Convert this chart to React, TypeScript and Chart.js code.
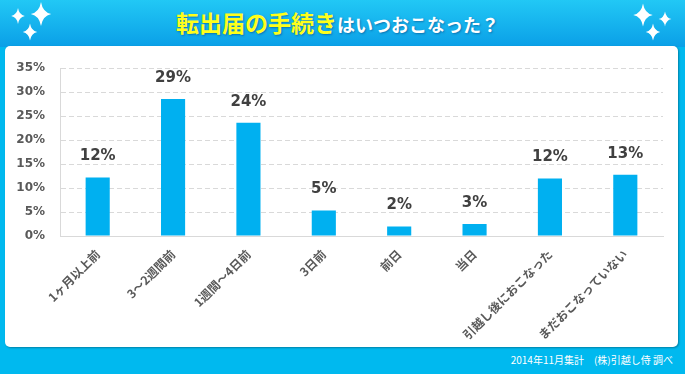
import React, { useEffect, useRef } from "react";
import { Chart, registerables } from "chart.js";

Chart.register(...registerables);

const categories = ["1ヶ月以上前", "3～2週間前", "1週間～4日前", "3日前", "前日", "当日", "引越し後におこなった", "まだおこなっていない"];
const values = [12.2, 28.6, 23.6, 5.3, 2.0, 2.5, 12.0, 12.8];
const yTicks = [0, 5, 10, 15, 20, 25, 30, 35];
const titleYellow = "転出届の手続き";
const titleWhite = "はいつおこなった？";
const footer = "2014年11月集計　(株)引越し侍 調べ";

const FONT = "'DejaVu Sans', 'Noto Sans CJK JP', sans-serif";
const JP = "'Noto Sans CJK JP', 'DejaVu Sans', sans-serif";

const valueLabels = {
  id: "valueLabels",
  afterDatasetsDraw(chart: any) {
    const ctx = chart.ctx;
    const meta = chart.getDatasetMeta(0);
    ctx.save();
    ctx.font = `bold 15px ${FONT}`;
    ctx.fillStyle = "#404040";
    ctx.textAlign = "center";
    ctx.textBaseline = "middle";
    meta.data.forEach((bar: any, i: number) => {
      const v = chart.data.datasets[0].data[i];
      ctx.fillText(Math.round(v) + "%", bar.x, bar.y - 21);
    });
    ctx.restore();
  },
};

function Sparkle({ cx, cy, r }: { cx: number; cy: number; r: number }) {
  const w = r * 0.14;
  const h = r * 0.85;
  const d = `M ${cx} ${cy - r} Q ${cx + w} ${cy - w} ${cx + h} ${cy} Q ${cx + w} ${cy + w} ${cx} ${cy + r} Q ${cx - w} ${cy + w} ${cx - h} ${cy} Q ${cx - w} ${cy - w} ${cx} ${cy - r} Z`;
  return (
    <g>
      <circle cx={cx} cy={cy} r={r * 0.4} fill="rgba(255,255,255,0.4)" />
      <path d={d} fill="#ffffff" />
    </g>
  );
}

export default function App() {
  const ref = useRef<HTMLCanvasElement>(null);
  useEffect(() => {
    document.body.style.margin = "0";
    const chart = new Chart(ref.current!, {
      type: "bar",
      data: {
        labels: categories,
        datasets: [
          {
            data: values,
            backgroundColor: "#00b0f0",
            barPercentage: 0.64,
            categoryPercentage: 0.5,
          },
        ],
      },
      options: {
        animation: false,
        responsive: false,
        maintainAspectRatio: false,
        layout: { padding: { top: 10.8, right: 15, left: 0, bottom: 0 } },
        plugins: { legend: { display: false }, tooltip: { enabled: false } },
        scales: {
          x: {
            grid: { display: false, drawTicks: false },
            border: { display: true, color: "#d9d9d9", width: 1 },
            ticks: {
              color: "#595959",
              font: { family: JP, size: 12, weight: "bold" },
              maxRotation: 45,
              minRotation: 45,
              autoSkip: false,
              padding: 11,
            },
            afterFit(scale: any) {
              scale.height = 111;
            },
          },
          y: {
            min: 0,
            max: 35,
            afterBuildTicks(scale: any) {
              scale.ticks = yTicks.map((v) => ({ value: v }));
            },
            grid: { color: "#d9d9d9", drawTicks: false, lineWidth: 1 },
            border: { display: true, color: "#d9d9d9", dash: [5, 3] },
            ticks: {
              color: "#595959",
              font: { family: FONT, size: 12, weight: "bold" },
              padding: 15,
              callback: (v: any) => v + "%",
            },
            afterFit(scale: any) {
              scale.width = 55;
            },
          },
        },
      },
      plugins: [valueLabels],
    });
    return () => chart.destroy();
  }, []);

  return (
    <div style={{ position: "fixed", left: 0, top: 0, width: 685, height: 374, background: "#00b9ef", overflow: "hidden" }}>
      <div style={{ position: "absolute", left: 0, top: 0, width: 685, height: 47, background: "linear-gradient(#22c8f5, #0a9fe7)" }} />
      <div
        style={{
          position: "absolute",
          left: -5,
          top: 7,
          width: 685,
          textAlign: "center",
          fontFamily: JP,
          fontWeight: "bold",
          whiteSpace: "nowrap",
          lineHeight: "30px",
          textShadow: "1px 1px 2px rgba(0,60,120,0.5)",
        }}
      >
        <span style={{ color: "#ffff1a", fontSize: 23 }}>{titleYellow}</span>
        <span style={{ color: "#ffffff", fontSize: 18 }}>{titleWhite}</span>
      </div>
      <svg style={{ position: "absolute", left: 0, top: 0 }} width={685} height={47}>
        <Sparkle cx={18} cy={16} r={8} />
        <Sparkle cx={41} cy={14} r={12} />
        <Sparkle cx={30} cy={32} r={8.5} />
        <Sparkle cx={643} cy={15} r={11.5} />
        <Sparkle cx={665} cy={19} r={7.5} />
        <Sparkle cx={653} cy={32} r={8.5} />
      </svg>
      <div
        style={{
          position: "absolute",
          left: 5,
          top: 46,
          width: 673,
          height: 301,
          background: "#ffffff",
          borderRadius: 5,
          boxShadow: "1px 1px 2px rgba(0,0,0,0.3)",
        }}
      >
        <canvas ref={ref} width={673} height={301} style={{ display: "block" }} />
      </div>
      <div
        style={{
          position: "absolute",
          right: 12,
          top: 353,
          color: "#ffffff",
          fontFamily: JP,
          fontSize: 10,
          lineHeight: "14px",
          whiteSpace: "nowrap",
        }}
      >
        {footer}
      </div>
    </div>
  );
}
